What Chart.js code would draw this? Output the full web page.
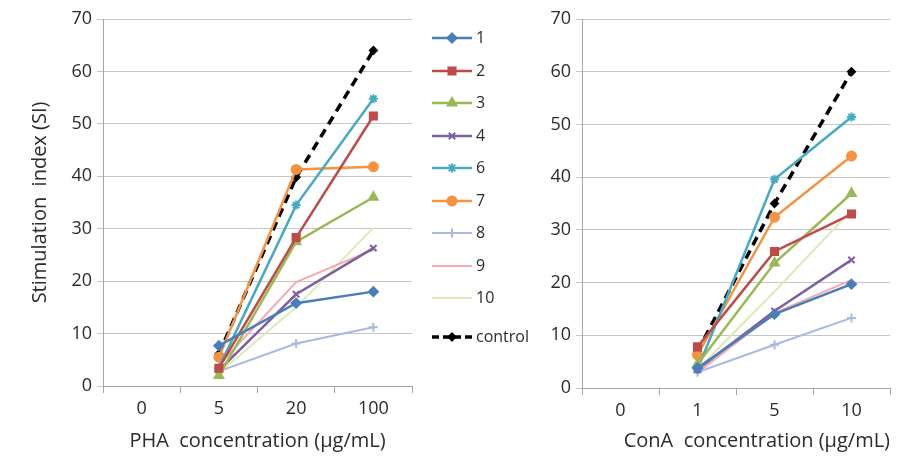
<!DOCTYPE html>
<html>
<head>
<meta charset="utf-8">
<script src="https://cdn.jsdelivr.net/npm/chart.js@4/dist/chart.umd.min.js"></script>
<style>
  body { margin: 0; background: #fff; }
  #wrap { position: relative; width: 906px; height: 463px; overflow: hidden; }
  #phaChart { position: absolute; left: 0; top: 0; }
  #conaChart { position: absolute; left: 540px; top: 0; }
</style>
</head>
<body>
<div id="wrap">
  <canvas id="phaChart" width="545" height="463"></canvas>
  <canvas id="conaChart" width="366" height="463"></canvas>
</div>
<script>
// categories
const phaLabels = ['0', '5', '20', '100'];
const conaLabels = ['0', '1', '5', '10'];
const seriesNames = ['1', '2', '3', '4', '6', '7', '8', '9', '10', 'control'];
const yTicks = [0, 10, 20, 30, 40, 50, 60, 70];

// PHA stimulation index (no value at 0)
const pha1 = [null, 7.7, 15.8, 18.0];
const pha2 = [null, 3.4, 28.3, 51.5];
const pha3 = [null, 2.0, 27.5, 36.0];
const pha4 = [null, 3.0, 17.5, 26.3];
const pha6 = [null, 3.5, 34.5, 54.8];
const pha7 = [null, 5.5, 41.3, 41.8];
const pha8 = [null, 2.8, 8.1, 11.2];
const pha9 = [null, 4.0, 19.8, 26.0];
const pha10 = [null, 2.5, 15.0, 30.2];
const phaControl = [null, 6.1, 39.8, 64.0];

// ConA stimulation index (no value at 0)
const cona1 = [null, 3.8, 14.0, 19.7];
const cona2 = [null, 7.8, 25.9, 33.0];
const cona3 = [null, 4.5, 23.7, 36.9];
const cona4 = [null, 3.5, 14.6, 24.3];
const cona6 = [null, 3.5, 39.6, 51.4];
const cona7 = [null, 6.3, 32.4, 44.0];
const cona8 = [null, 3.0, 8.2, 13.3];
const cona9 = [null, 2.9, 14.2, 20.5];
const cona10 = [null, 3.5, 18.3, 33.7];
const conaControl = [null, 6.9, 35.0, 60.0];

const styles = [
    { color: '#4a7ebb', point: 'rectRot', radius: 4.5, width: 2.5 },
    { color: '#be4b48', point: 'rect', radius: 5, width: 2.5 },
    { color: '#98b954', point: 'triangle', radius: 5, width: 2.5 },
    { color: '#7d60a0', point: 'crossRot', radius: 4.5, width: 2.5 },
    { color: '#46aac5', point: 'star', radius: 4.5, width: 2.5 },
    { color: '#f69240', point: 'circle', radius: 4.5, width: 2.5 },
    { color: '#aab9e0', point: 'cross', radius: 4.5, width: 2 },
    { color: '#f4a9b2', point: false, radius: 0, width: 2 },
    { color: '#dde9b8', point: false, radius: 0, width: 2 },
    { color: '#000000', point: 'rectRot', radius: 3.5, width: 3.5, dash: [9, 6] }
];

const font = "'Open Sans', 'DejaVu Sans', sans-serif";
const gridColor = '#c6c6c6';
const axisColor = '#a6a6a6';
const textColor = '#2b2b2b';

function makeDatasets(seriesData) {
    return seriesData.map((vals, i) => {
        const s = styles[i];
        return {
            label: seriesNames[i],
            data: vals,
            borderColor: s.color,
            backgroundColor: s.color,
            borderWidth: s.width,
            borderDash: s.dash || [],
            pointStyle: s.point,
            pointRadius: s.radius,
            pointBorderWidth: 2,
            pointBorderColor: s.color,
            pointBackgroundColor: s.color,
            tension: 0,
            fill: false
        };
    });
}

// legend drawn between the two charts
const sideLegend = {
    id: 'sideLegend',
    afterDraw(chart) {
        const ctx = chart.ctx;
        const rows = [38, 71, 103, 136, 168, 201, 233, 266, 298, 337];
        ctx.save();
        chart.data.datasets.forEach((ds, i) => {
            const y = rows[i];
            const s = styles[i];
            ctx.strokeStyle = s.color;
            ctx.lineWidth = s.width;
            ctx.setLineDash(s.dash ? [7, 4] : []);
            ctx.beginPath();
            ctx.moveTo(432, y);
            ctx.lineTo(472, y);
            ctx.stroke();
            ctx.setLineDash([]);
            if (s.point && Chart.helpers && Chart.helpers.drawPoint) {
                ctx.fillStyle = s.color;
                ctx.strokeStyle = s.color;
                ctx.lineWidth = 2;
                Chart.helpers.drawPoint(ctx, { pointStyle: s.point, rotation: 0, radius: s.radius, borderWidth: 2 }, 452, y);
            }
            ctx.fillStyle = textColor;
            ctx.font = "16px " + font;
            ctx.textAlign = 'left';
            ctx.textBaseline = 'middle';
            ctx.fillText(ds.label, 476, y);
        });
        ctx.restore();
    }
};

function makeOptions(cfg) {
    return {
        responsive: false,
        animation: false,
        layout: { padding: cfg.padding },
        plugins: {
            legend: { display: false },
            tooltip: { enabled: false }
        },
        scales: {
            x: {
                type: 'category',
                offset: true,
                afterFit: s => { s.height = cfg.xHeight; },
                grid: {
                    offset: true,
                    drawOnChartArea: false,
                    drawTicks: true,
                    tickLength: 7,
                    color: axisColor
                },
                border: { display: true, color: axisColor, width: 1 },
                ticks: { color: textColor, padding: 5, font: { family: font, size: 18 } },
                title: {
                    display: true,
                    text: cfg.xTitle,
                    align: cfg.xAlign,
                    color: textColor,
                    font: { family: font, size: 20 },
                    padding: { top: 0, bottom: 10 }
                }
            },
            y: {
                min: 0,
                max: 70,
                afterFit: s => { s.width = cfg.yWidth; },
                afterBuildTicks: s => { s.ticks = yTicks.map(v => ({ value: v })); },
                grid: { color: gridColor, tickLength: 6, drawTicks: true },
                border: { display: true, color: axisColor, width: 1 },
                ticks: { color: textColor, padding: 5, font: { family: font, size: 18 } },
                title: {
                    display: !!cfg.yTitle,
                    text: cfg.yTitle,
                    color: textColor,
                    font: { family: font, size: 20 },
                    padding: { top: 28, bottom: 0 }
                }
            }
        }
    };
}

new Chart(document.getElementById('phaChart'), {
    type: 'line',
    data: {
        labels: phaLabels,
        datasets: makeDatasets([pha1, pha2, pha3, pha4, pha6, pha7, pha8, pha9, pha10, phaControl])
    },
    options: makeOptions({
        padding: { top: 19, right: 133, left: 0, bottom: 0 },
        xHeight: 77,
        yWidth: 103,
        xAlign: 'center',
        xTitle: 'PHA  concentration (\u03bcg/mL)',
        yTitle: 'Stimulation  index (SI)'
    }),
    plugins: [sideLegend]
});

new Chart(document.getElementById('conaChart'), {
    type: 'line',
    data: {
        labels: conaLabels,
        datasets: makeDatasets([cona1, cona2, cona3, cona4, cona6, cona7, cona8, cona9, cona10, conaControl])
    },
    options: makeOptions({
        padding: { top: 19, right: 16, left: 0, bottom: 0 },
        xHeight: 75,
        yWidth: 42,
        xAlign: 'end',
        xTitle: 'ConA  concentration (\u03bcg/mL)',
        yTitle: ''
    })
});
</script>
</body>
</html>
